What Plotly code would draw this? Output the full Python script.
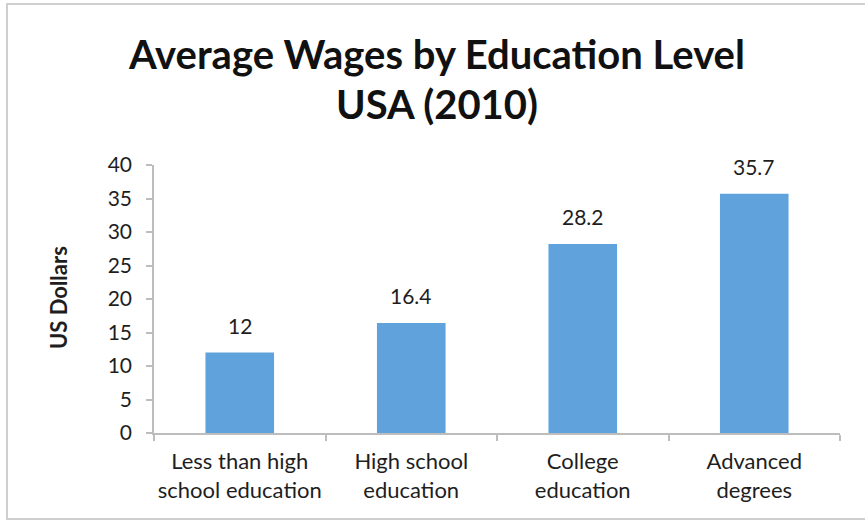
import plotly.graph_objects as go

categories = ["Less than high<br>school education", "High school<br>education",
              "College<br>education", "Advanced<br>degrees"]
wages = [12, 16.4, 28.2, 35.7]
wage_labels = ["12", "16.4", "28.2", "35.7"]
y_ticks = [0, 5, 10, 15, 20, 25, 30, 35, 40]
title_lines = ["Average Wages by Education Level", "USA (2010)"]
y_title = "US Dollars"

FONT = "Lato"
TXT = "#1e1e1e"

# plot area in pixels: x 154..840, y 165..433
fig = go.Figure()
fig.add_trace(go.Bar(
    x=categories, y=wages,
    marker=dict(color="#5fa2dc", line=dict(width=0)),
    hoverinfo="skip",
))

for c, v, t in zip(categories, wages, wage_labels):
    fig.add_annotation(x=c, y=v, text=t, showarrow=False, yanchor="bottom",
                       yshift=13, font=dict(family=FONT, size=21, color=TXT))

fig.add_annotation(text="<b>%s</b>" % y_title, xref="paper", yref="paper",
                   x=-0.14, y=0.507, xanchor="center", yanchor="middle",
                   textangle=-90, showarrow=False,
                   font=dict(family=FONT, size=22, color=TXT))

for line, ypos in zip(title_lines, [1.4142, 1.2276]):
    fig.add_annotation(text="<b>%s</b>" % line, xref="paper", yref="paper",
                       x=0.4125, y=ypos, xanchor="center", yanchor="middle",
                       showarrow=False,
                       font=dict(family=FONT, size=40, color="#111111"))

# outer frame
fig.add_shape(type="rect", xref="paper", yref="paper",
              x0=-0.2143, x1=1.1, y0=-0.3209, y1=1.6007,
              line=dict(color="#cfcfcf", width=2), layer="below")

fig.update_layout(
    template="none",
    width=865, height=522,
    margin=dict(l=154, r=25, t=165, b=89, pad=0),
    paper_bgcolor="white", plot_bgcolor="white",
    showlegend=False,
    bargap=0.6,
)
fig.update_xaxes(
    showline=True, linecolor="#bdbdbd", linewidth=1.5,
    ticks="outside", tickson="boundaries", ticklen=6, tickcolor="#bdbdbd",
    tickwidth=1.5, tickangle=0, ticklabelstandoff=8,
    tickfont=dict(family=FONT, size=22, color=TXT),
    showgrid=False, automargin=False,
)
fig.update_yaxes(
    range=[0, 40], tickvals=y_ticks,
    showline=True, linecolor="#bdbdbd", linewidth=1.5,
    ticks="outside", ticklen=6, tickcolor="#bdbdbd", tickwidth=1.5,
    ticklabelstandoff=10,
    tickfont=dict(family=FONT, size=21, color=TXT),
    showgrid=False, zeroline=False, automargin=False,
)

fig.write_html("out.html",
               config={"displayModeBar": False},
               post_script="document.body.style.margin='0';")
